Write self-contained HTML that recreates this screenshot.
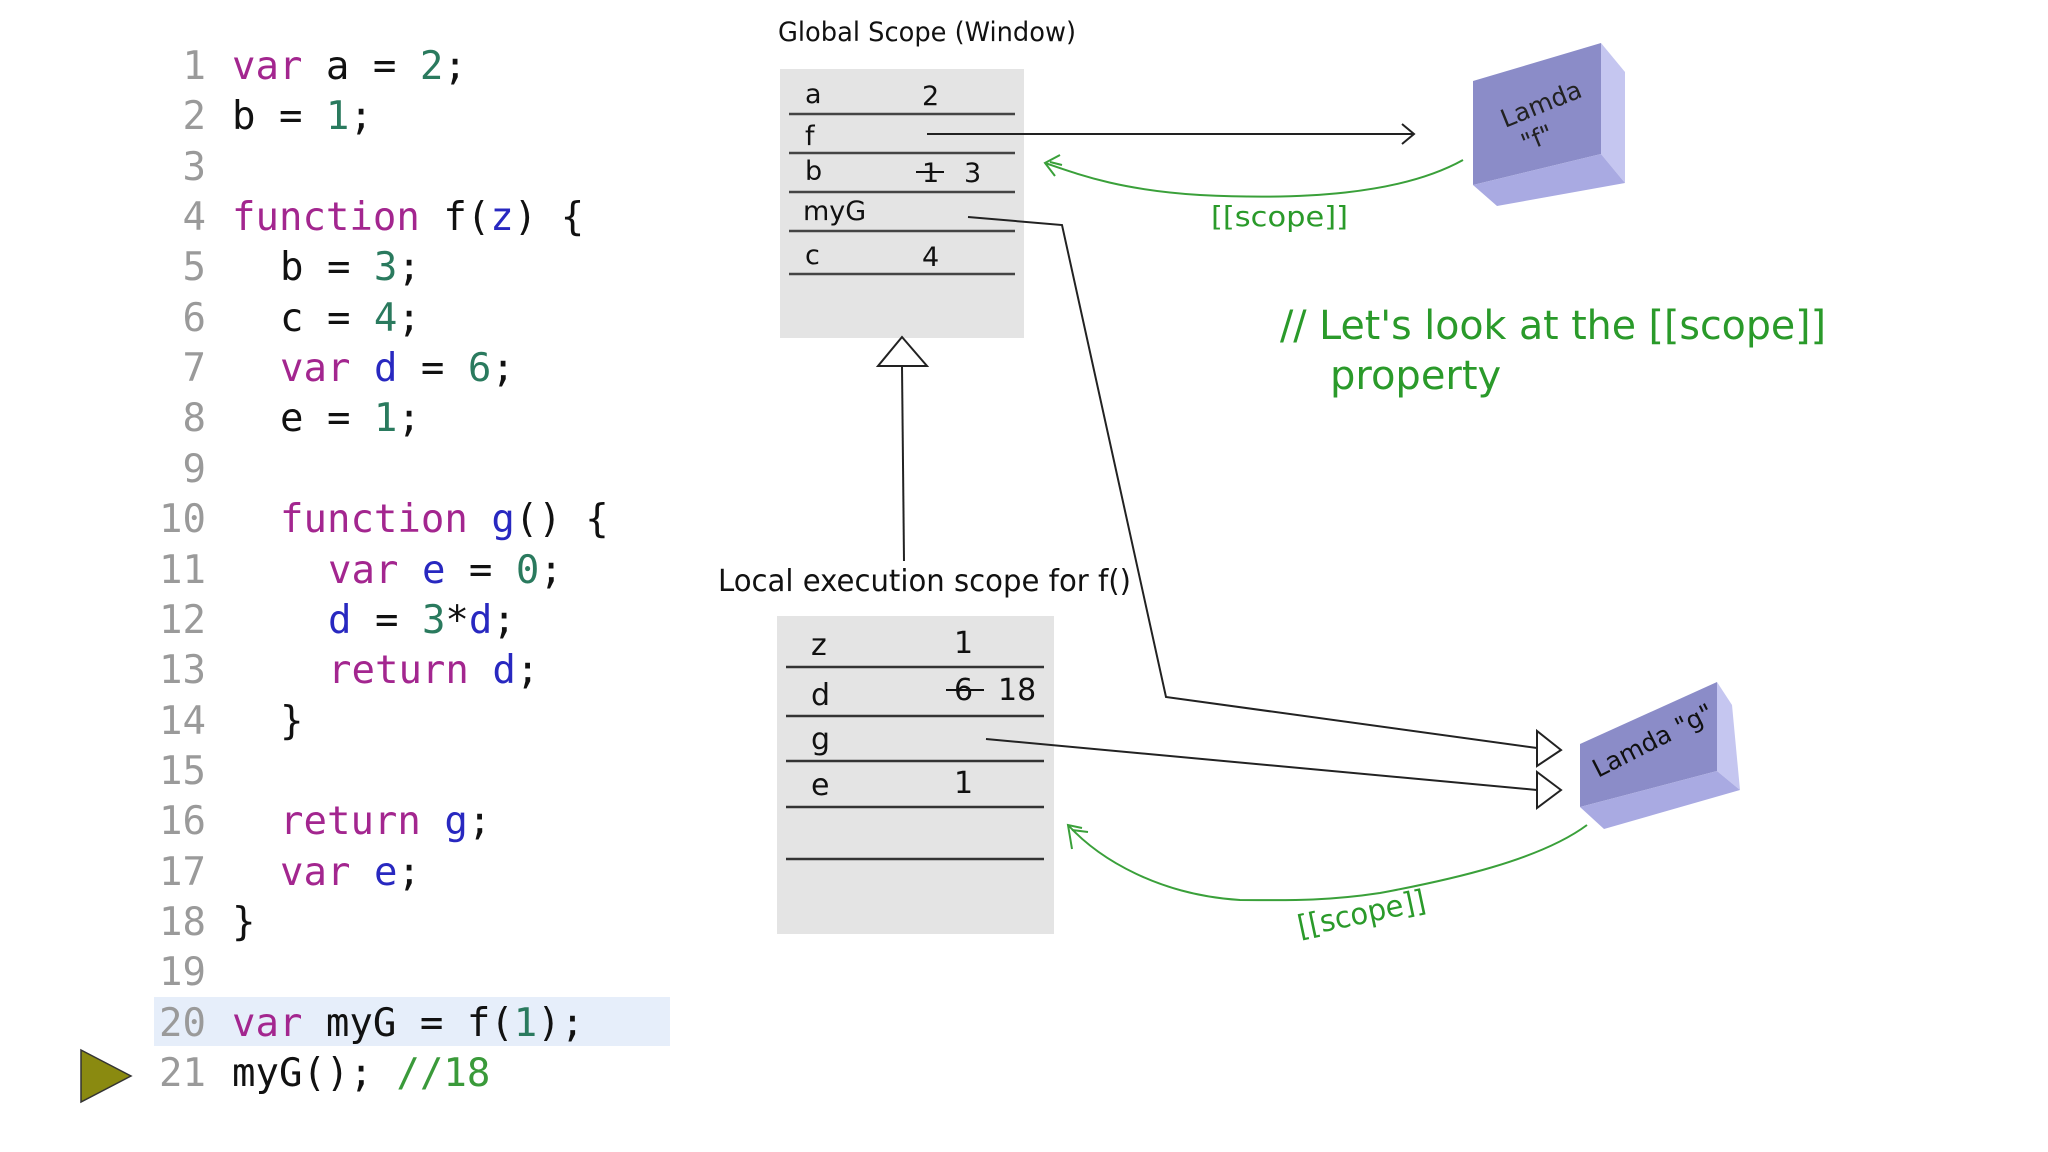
<!DOCTYPE html>
<html><head><meta charset="utf-8"><style>
html,body{margin:0;padding:0;background:#fff;}
svg{display:block}
.code{font-family:"DejaVu Sans Mono","Liberation Mono",monospace;font-size:39px;fill:#111;white-space:pre;}
.ln{fill:#9a9a9a;}
.k{fill:#a3268f;}
.n{fill:#2a7a5e;}
.v{fill:#2828c0;}
.c{fill:#3a9a3a;}
.lbl{font-family:"DejaVu Sans","Liberation Sans",sans-serif;fill:#111;}
.g{font-family:"DejaVu Sans","Liberation Sans",sans-serif;fill:#2a9a2a;}
</style></head><body>
<svg width="2048" height="1152" viewBox="0 0 2048 1152" xmlns="http://www.w3.org/2000/svg">
<rect width="2048" height="1152" fill="#fff"/>
<rect x="154" y="997" width="516" height="49" fill="#e6eefa"/>
<polygon points="81,1050 131,1076 81,1102" fill="#8a8a10" stroke="#333" stroke-width="1.5"/>
<g class="code">
<text x="206" y="79" text-anchor="end" class="ln">1</text>
<text x="206" y="129" text-anchor="end" class="ln">2</text>
<text x="206" y="180" text-anchor="end" class="ln">3</text>
<text x="206" y="230" text-anchor="end" class="ln">4</text>
<text x="206" y="280" text-anchor="end" class="ln">5</text>
<text x="206" y="331" text-anchor="end" class="ln">6</text>
<text x="206" y="381" text-anchor="end" class="ln">7</text>
<text x="206" y="431" text-anchor="end" class="ln">8</text>
<text x="206" y="482" text-anchor="end" class="ln">9</text>
<text x="206" y="532" text-anchor="end" class="ln">10</text>
<text x="206" y="583" text-anchor="end" class="ln">11</text>
<text x="206" y="633" text-anchor="end" class="ln">12</text>
<text x="206" y="683" text-anchor="end" class="ln">13</text>
<text x="206" y="734" text-anchor="end" class="ln">14</text>
<text x="206" y="784" text-anchor="end" class="ln">15</text>
<text x="206" y="834" text-anchor="end" class="ln">16</text>
<text x="206" y="885" text-anchor="end" class="ln">17</text>
<text x="206" y="935" text-anchor="end" class="ln">18</text>
<text x="206" y="985" text-anchor="end" class="ln">19</text>
<text x="206" y="1036" text-anchor="end" class="ln">20</text>
<text x="206" y="1086" text-anchor="end" class="ln">21</text>

<text x="232" y="79"><tspan class="k">var</tspan> a = <tspan class="n">2</tspan>;</text>
<text x="232" y="129">b = <tspan class="n">1</tspan>;</text>
<text x="232" y="230"><tspan class="k">function</tspan> f(<tspan class="v">z</tspan>) {</text>
<text x="280" y="280">b = <tspan class="n">3</tspan>;</text>
<text x="280" y="331">c = <tspan class="n">4</tspan>;</text>
<text x="280" y="381"><tspan class="k">var</tspan> <tspan class="v">d</tspan> = <tspan class="n">6</tspan>;</text>
<text x="280" y="431">e = <tspan class="n">1</tspan>;</text>
<text x="280" y="532"><tspan class="k">function</tspan> <tspan class="v">g</tspan>() {</text>
<text x="328" y="583"><tspan class="k">var</tspan> <tspan class="v">e</tspan> = <tspan class="n">0</tspan>;</text>
<text x="328" y="633"><tspan class="v">d</tspan> = <tspan class="n">3</tspan>*<tspan class="v">d</tspan>;</text>
<text x="328" y="683"><tspan class="k">return</tspan> <tspan class="v">d</tspan>;</text>
<text x="280" y="734">}</text>
<text x="280" y="834"><tspan class="k">return</tspan> <tspan class="v">g</tspan>;</text>
<text x="280" y="885"><tspan class="k">var</tspan> <tspan class="v">e</tspan>;</text>
<text x="232" y="935">}</text>
<text x="232" y="1036"><tspan class="k">var</tspan> myG = f(<tspan class="n">1</tspan>);</text>
<text x="232" y="1086">myG(); <tspan class="c">//18</tspan></text>
</g>

<text x="778" y="41" class="lbl" font-size="27" textLength="298" lengthAdjust="spacingAndGlyphs">Global Scope (Window)</text>
<rect x="780" y="69" width="244" height="269" fill="#e4e4e4"/>
<g stroke="#444" stroke-width="2.5">
<line x1="789" y1="114" x2="1015" y2="114"/>
<line x1="789" y1="153" x2="1015" y2="153"/>
<line x1="789" y1="192" x2="1015" y2="192"/>
<line x1="789" y1="231" x2="1015" y2="231"/>
<line x1="789" y1="274" x2="1015" y2="274"/>
</g>
<g class="lbl" font-size="27">
<text x="805" y="103">a</text><text x="922" y="105">2</text>
<text x="805" y="145">f</text>
<text x="805" y="180">b</text><text x="922" y="182">1</text><text x="964" y="182">3</text>
<text x="803" y="220">myG</text>
<text x="805" y="264">c</text><text x="922" y="266">4</text>
</g>
<line x1="916" y1="172" x2="944" y2="172" stroke="#111" stroke-width="2"/>

<line x1="927" y1="134" x2="1414" y2="134" stroke="#222" stroke-width="2"/>
<polyline points="1402,124 1414,134 1402,144" fill="none" stroke="#222" stroke-width="2"/>

<polygon points="1473,81 1601,43 1601,154 1473,185" fill="#8b8cc8"/>
<polygon points="1601,43 1625,72 1625,183 1601,154" fill="#c5c6f0"/>
<polygon points="1473,185 1601,154 1625,183 1497,206" fill="#a9aae2"/>
<g transform="translate(1505,128) rotate(-22)" class="lbl" font-size="25">
<text x="0" y="0" fill="#222">Lamda</text>
<text x="10" y="30" fill="#222">"f"</text>
</g>

<path d="M1463,160 C1400,195 1300,200 1200,195 C1120,190 1080,175 1045,163" fill="none" stroke="#3aa03a" stroke-width="2"/>
<path d="M1060,155 L1045,163 L1055,176 M1050,162 L1062,165" fill="none" stroke="#3aa03a" stroke-width="2"/>
<text x="1211" y="226" class="g" font-size="28" textLength="137" lengthAdjust="spacingAndGlyphs">[[scope]]</text>

<text x="1280" y="339" class="g" font-size="40" textLength="546" lengthAdjust="spacingAndGlyphs">// Let's look at the [[scope]]</text>
<text x="1330" y="389" class="g" font-size="40">property</text>

<line x1="904" y1="561" x2="902" y2="366" stroke="#222" stroke-width="2"/>
<polygon points="902,337 878,366 927,366" fill="#fff" stroke="#222" stroke-width="2"/>

<text x="718" y="591" class="lbl" font-size="30" textLength="413" lengthAdjust="spacingAndGlyphs">Local execution scope for f()</text>
<rect x="777" y="616" width="277" height="318" fill="#e4e4e4"/>
<g stroke="#333" stroke-width="2.5">
<line x1="786" y1="667" x2="1044" y2="667"/>
<line x1="786" y1="716" x2="1044" y2="716"/>
<line x1="786" y1="761" x2="1044" y2="761"/>
<line x1="786" y1="807" x2="1044" y2="807"/>
<line x1="786" y1="859" x2="1044" y2="859"/>
</g>
<g class="lbl" font-size="30">
<text x="811" y="655">z</text><text x="954" y="653">1</text>
<text x="811" y="705">d</text><text x="954" y="700">6</text><text x="998" y="700">18</text>
<text x="811" y="749">g</text>
<text x="811" y="795">e</text><text x="954" y="793">1</text>
</g>
<line x1="946" y1="690" x2="984" y2="690" stroke="#111" stroke-width="2"/>

<polyline points="968,217 1062,225 1166,697 1537,748" fill="none" stroke="#222" stroke-width="2"/>
<polygon points="1561,750 1537,731 1537,766" fill="#fff" stroke="#222" stroke-width="2"/>
<line x1="986" y1="739" x2="1537" y2="790" stroke="#222" stroke-width="2"/>
<polygon points="1561,790 1537,772 1537,808" fill="#fff" stroke="#222" stroke-width="2"/>

<polygon points="1580,744 1717,682 1717,771 1580,807" fill="#8b8cc8"/>
<polygon points="1717,682 1732,705 1740,790 1717,771" fill="#c5c6f0"/>
<polygon points="1580,807 1717,771 1740,790 1604,829" fill="#a9aae2"/>
<text transform="translate(1598,778) rotate(-27)" class="lbl" font-size="25" fill="#222">Lamda "g"</text>

<path d="M1587,825 C1540,860 1450,880 1380,893 C1320,902 1280,900 1240,900 C1160,895 1100,860 1068,825" fill="none" stroke="#3aa03a" stroke-width="2"/>
<path d="M1072,849 L1068,825 L1082,828 M1072,830 L1088,832" fill="none" stroke="#3aa03a" stroke-width="2"/>
<text transform="translate(1300,937) rotate(-12)" class="g" font-size="30" textLength="130" lengthAdjust="spacingAndGlyphs">[[scope]]</text>
</svg>
</body></html>
